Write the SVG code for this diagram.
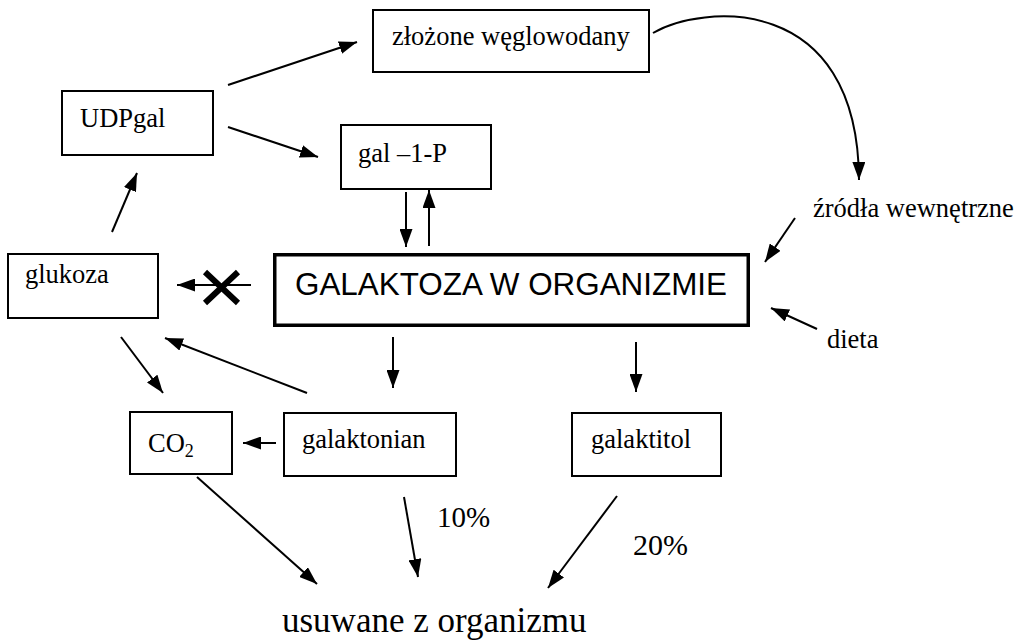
<svg xmlns="http://www.w3.org/2000/svg" width="1022" height="643" viewBox="0 0 1022 643">
<defs>
<marker id="ah" markerUnits="userSpaceOnUse" markerWidth="18" markerHeight="13" refX="18" refY="6.5" orient="auto">
<path d="M0,0 L18,6.5 L0,13 z" fill="#000"/>
</marker>
</defs>
<style>
.box{fill:#fff;stroke:#000;stroke-width:2}
.main{fill:#fff;stroke:#000;stroke-width:3.5}
.t{font-family:"Liberation Serif","Times New Roman",serif;font-size:26.5px;fill:#000}
.s{font-family:"Liberation Sans",Arial,sans-serif;font-size:31px;fill:#000}
.c{fill:none;stroke:#000;stroke-width:2;marker-end:url(#ah)}
</style>
<rect width="1022" height="643" fill="#fff"/>
<g id="n-zlozone"><rect class="box" x="373" y="10" width="276" height="62"/><text class="t" x="392" y="45">złożone węglowodany</text></g>
<g id="n-udpgal"><rect class="box" x="62" y="91" width="151" height="64"/><text class="t" x="80" y="127">UDPgal</text></g>
<g id="n-gal1p"><rect class="box" x="341" y="125" width="150" height="64"/><text class="t" x="358" y="162">gal –1-P</text></g>
<g id="n-glukoza"><rect class="box" x="8" y="254" width="150" height="64"/><text class="t" x="25" y="283">glukoza</text></g>
<g id="n-galaktoza"><rect class="main" x="274.75" y="254.75" width="473.5" height="70.5"/><text class="s" x="295" y="295" textLength="432" lengthAdjust="spacingAndGlyphs">GALAKTOZA W ORGANIZMIE</text></g>
<g id="n-zrodla"><text class="t" x="813" y="217">źródła wewnętrzne</text></g>
<g id="n-dieta"><text class="t" x="827" y="348">dieta</text></g>
<g id="n-co2"><rect class="box" x="130" y="412" width="102" height="62"/><text class="t" x="148" y="452">CO<tspan font-size="18" dy="5">2</tspan></text></g>
<g id="n-galaktonian"><rect class="box" x="284" y="413" width="172" height="63"/><text class="t" x="302" y="448">galaktonian</text></g>
<g id="n-galaktitol"><rect class="box" x="572" y="413" width="149" height="63"/><text class="t" x="591" y="448">galaktitol</text></g>
<g id="n-usuwane"><text class="t" x="282" y="632" style="font-size:35px">usuwane z organizmu</text></g>
<g id="l-10"><text class="t" x="437" y="527" style="font-size:29px">10%</text></g>
<g id="l-20"><text class="t" x="633" y="555" style="font-size:30px">20%</text></g>
<g id="connectors">
<line class="c" x1="228" y1="85" x2="357" y2="42"/>
<line class="c" x1="228" y1="127" x2="318" y2="157"/>
<line class="c" x1="112" y1="232" x2="137" y2="173"/>
<line class="c" x1="406" y1="192" x2="406" y2="247"/>
<line class="c" x1="429" y1="246" x2="429" y2="190"/>
<path class="c" d="M653,33 C700,5 858,-10 859,180"/>
<line class="c" x1="795" y1="218" x2="765" y2="262"/>
<line class="c" x1="817" y1="329" x2="771" y2="308"/>
<line class="c" x1="251" y1="285" x2="177" y2="285"/>
<path d="M205,272 L238,303 M238,272 L205,303" stroke="#000" stroke-width="6" fill="none"/>
<line class="c" x1="393" y1="337" x2="393" y2="388"/>
<line class="c" x1="636" y1="342" x2="636" y2="392"/>
<line class="c" x1="121" y1="337" x2="163" y2="393"/>
<line class="c" x1="307" y1="393" x2="165" y2="338"/>
<line class="c" x1="276" y1="443" x2="243" y2="443"/>
<line class="c" x1="197" y1="477" x2="317" y2="584"/>
<line class="c" x1="404" y1="497" x2="418" y2="577"/>
<line class="c" x1="617" y1="496" x2="548" y2="588"/>
</g>
</svg>
